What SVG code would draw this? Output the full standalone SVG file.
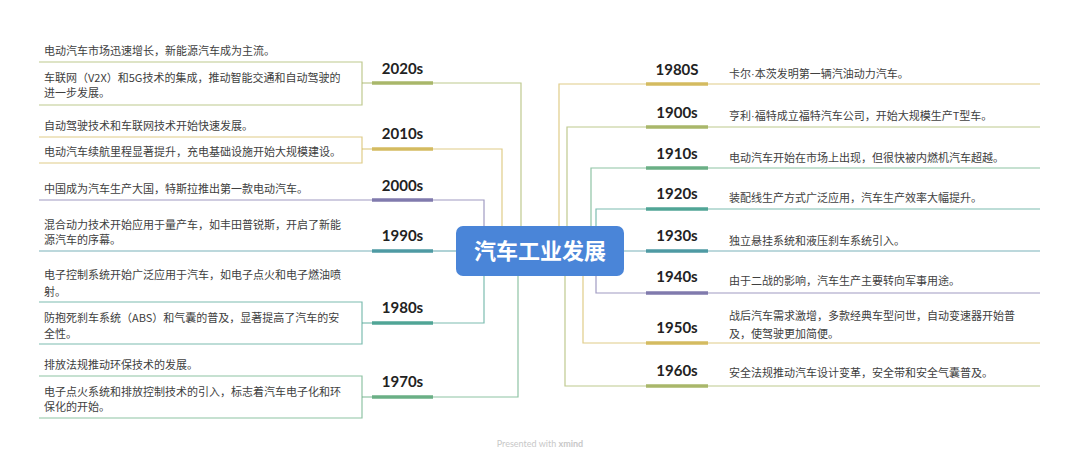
<svg xmlns="http://www.w3.org/2000/svg" width="1080" height="459" viewBox="0 0 1080 459">
<style>
.lbl{font-family:Lato,"Noto Sans CJK SC",sans-serif;font-weight:700;font-size:15px;fill:#222;text-anchor:middle}
.txt{font-family:"Noto Sans CJK SC","Noto Sans",sans-serif;font-size:11px;fill:#404040}
.dot{font-family:"Liberation Sans",sans-serif}
.bar{stroke-width:3.5;fill:none}
.thin{stroke-width:1.2;fill:none;stroke-opacity:0.75}
.ol{stroke:#A9B76A}.go{stroke:#D4BB60}.pu{stroke:#807AAD}.te{stroke:#4E9AA3}.tg{stroke:#50A596}.gr{stroke:#6AAF85}
</style>
<rect width="1080" height="459" fill="#ffffff"/>
<g id="connectors">
  <polyline class="thin ol" points="433,83 521,83 521,226"/>
  <polyline class="thin ol" points="39,62 362,62 362,105 39,105"/>
  <line class="thin ol" x1="362" y1="83" x2="372" y2="83"/>
  <polyline class="thin go" points="433,149 502,149 502,226"/>
  <polyline class="thin go" points="39,137 362,137 362,163 39,163"/>
  <line class="thin go" x1="362" y1="149" x2="372" y2="149"/>
  <polyline class="thin pu" points="433,200 484,200 484,226"/>
  <line class="thin pu" x1="39" y1="200" x2="372" y2="200"/>
  <line class="thin te" x1="433" y1="251" x2="456" y2="251"/>
  <line class="thin te" x1="39" y1="251" x2="372" y2="251"/>
  <polyline class="thin tg" points="433,323 484,323 484,276"/>
  <polyline class="thin tg" points="39,302 362,302 362,344 39,344"/>
  <line class="thin tg" x1="362" y1="323" x2="372" y2="323"/>
  <polyline class="thin gr" points="433,397 518,397 518,276"/>
  <polyline class="thin gr" points="39,376 362,376 362,418 39,418"/>
  <line class="thin gr" x1="362" y1="397" x2="372" y2="397"/>
  <polyline class="thin go" points="559,226 559,84 1040,84"/>
  <polyline class="thin ol" points="567,226 567,127 1040,127"/>
  <polyline class="thin gr" points="591,226 591,168 1040,168"/>
  <polyline class="thin tg" points="596,226 596,209 1040,209"/>
  <line class="thin te" x1="624" y1="251" x2="1040" y2="251"/>
  <polyline class="thin pu" points="596,276 596,293 1040,293"/>
  <polyline class="thin go" points="583,276 583,343 1040,343"/>
  <polyline class="thin ol" points="565,276 565,386 1040,386"/>
</g>
<g id="center">
  <rect x="456" y="226" width="168" height="50" rx="7" fill="#4A85D8"/>
  <text x="540" y="259" text-anchor="middle" font-family="'Noto Sans CJK SC',sans-serif" font-weight="700" font-size="22" fill="#ffffff">汽车工业发展</text>
</g>
<g id="n2020s">
  <line class="bar ol" x1="372" y1="83" x2="433" y2="83"/>
  <text class="lbl" x="402.5" y="74">2020s</text>
  <text class="txt" x="44" y="55">电动汽车市场迅速增长，新能源汽车成为主流。</text>
  <text class="txt" x="44" y="82">车联网（V2X）和5G技术的集成，推动智能交通和自动驾驶的</text>
  <text class="txt" x="44" y="97">进一步发展。</text>
</g>
<g id="n2010s">
  <line class="bar go" x1="372" y1="149" x2="433" y2="149"/>
  <text class="lbl" x="402.5" y="139">2010s</text>
  <text class="txt" x="44" y="130">自动驾驶技术和车联网技术开始快速发展。</text>
  <text class="txt" x="44" y="156">电动汽车续航里程显著提升，充电基础设施开始大规模建设。</text>
</g>
<g id="n2000s">
  <line class="bar pu" x1="372" y1="200" x2="433" y2="200"/>
  <text class="lbl" x="402.5" y="191">2000s</text>
  <text class="txt" x="44" y="193">中国成为汽车生产大国，特斯拉推出第一款电动汽车。</text>
</g>
<g id="n1990s">
  <line class="bar te" x1="372" y1="251" x2="433" y2="251"/>
  <text class="lbl" x="402.5" y="241">1990s</text>
  <text class="txt" x="44" y="229">混合动力技术开始应用于量产车，如丰田普锐斯，开启了新能</text>
  <text class="txt" x="44" y="244">源汽车的序幕。</text>
</g>
<g id="n1980s">
  <line class="bar tg" x1="372" y1="323" x2="433" y2="323"/>
  <text class="lbl" x="402.5" y="313">1980s</text>
  <text class="txt" x="44" y="279">电子控制系统开始广泛应用于汽车，如电子点火和电子燃油喷</text>
  <text class="txt" x="44" y="296">射。</text>
  <text class="txt" x="44" y="322">防抱死刹车系统（ABS）和气囊的普及，显著提高了汽车的安</text>
  <text class="txt" x="44" y="338">全性。</text>
</g>
<g id="n1970s">
  <line class="bar gr" x1="372" y1="397" x2="433" y2="397"/>
  <text class="lbl" x="402.5" y="387">1970s</text>
  <text class="txt" x="44" y="369">排放法规推动环保技术的发展。</text>
  <text class="txt" x="44" y="396">电子点火系统和排放控制技术的引入，标志着汽车电子化和环</text>
  <text class="txt" x="44" y="411">保化的开始。</text>
</g>
<g id="r1980S">
  <line class="bar go" x1="646" y1="84" x2="708" y2="84"/>
  <text class="lbl" x="677" y="75">1980S</text>
  <text class="txt" x="729" y="78">卡尔<tspan class="dot">·</tspan>本茨发明第一辆汽油动力汽车。</text>
</g>
<g id="r1900s">
  <line class="bar ol" x1="646" y1="127" x2="708" y2="127"/>
  <text class="lbl" x="677" y="118">1900s</text>
  <text class="txt" x="729" y="120">亨利<tspan class="dot">·</tspan>福特成立福特汽车公司，开始大规模生产T型车。</text>
</g>
<g id="r1910s">
  <line class="bar gr" x1="646" y1="168" x2="708" y2="168"/>
  <text class="lbl" x="677" y="159">1910s</text>
  <text class="txt" x="729" y="162">电动汽车开始在市场上出现，但很快被内燃机汽车超越。</text>
</g>
<g id="r1920s">
  <line class="bar tg" x1="646" y1="209" x2="708" y2="209"/>
  <text class="lbl" x="677" y="199">1920s</text>
  <text class="txt" x="729" y="202">装配线生产方式广泛应用，汽车生产效率大幅提升。</text>
</g>
<g id="r1930s">
  <line class="bar te" x1="646" y1="251" x2="708" y2="251"/>
  <text class="lbl" x="677" y="241">1930s</text>
  <text class="txt" x="729" y="245">独立悬挂系统和液压刹车系统引入。</text>
</g>
<g id="r1940s">
  <line class="bar pu" x1="646" y1="293" x2="708" y2="293"/>
  <text class="lbl" x="677" y="282">1940s</text>
  <text class="txt" x="729" y="285">由于二战的影响，汽车生产主要转向军事用途。</text>
</g>
<g id="r1950s">
  <line class="bar go" x1="646" y1="343" x2="708" y2="343"/>
  <text class="lbl" x="677" y="333">1950s</text>
  <text class="txt" x="729" y="320">战后汽车需求激增，多款经典车型问世，自动变速器开始普</text>
  <text class="txt" x="729" y="338">及，使驾驶更加简便。</text>
</g>
<g id="r1960s">
  <line class="bar ol" x1="646" y1="386" x2="708" y2="386"/>
  <text class="lbl" x="677" y="376">1960s</text>
  <text class="txt" x="729" y="377">安全法规推动汽车设计变革，安全带和安全气囊普及。</text>
</g>
<g id="footer">
  <text x="540" y="447" text-anchor="middle" font-family="Lato,'Liberation Sans',sans-serif" font-size="9" fill="#c8c8c8">Presented with <tspan font-weight="700">xmind</tspan></text>
</g>
</svg>
